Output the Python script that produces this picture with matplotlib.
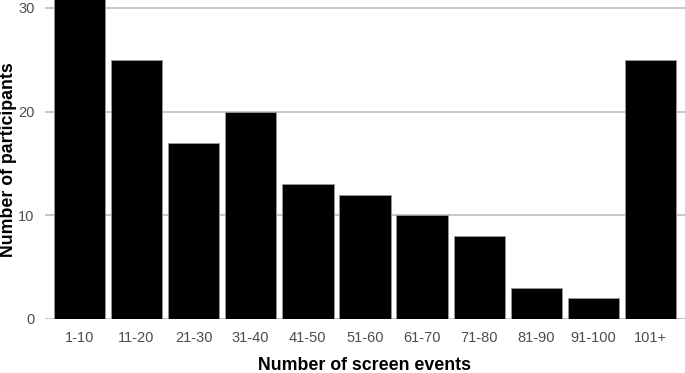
import matplotlib
matplotlib.use("Agg")
import matplotlib.pyplot as plt

categories = ["1-10", "11-20", "21-30", "31-40", "41-50", "51-60", "61-70", "71-80", "81-90", "91-100", "101+"]
participants = [31, 25, 17, 20, 13, 12, 10, 8, 3, 2, 25]
yticks = [0, 10, 20, 30]

plt.rcParams['font.family'] = ['Liberation Sans', 'DejaVu Sans']

fig = plt.figure(figsize=(6.85, 3.73), dpi=100)
ax = fig.add_axes([45/685, 54/373, 640/685, 319/373])

x = list(range(len(categories)))
ax.bar(x, participants, width=0.9, color="black", edgecolor="#999999", linewidth=0.6, zorder=3)
ax.set_xlim(-0.6, len(categories) - 1 + 0.6)
ax.set_ylim(0, 30.77)
ax.set_yticks(yticks)
ax.set_xticks(x)
ax.set_xticklabels(categories)
ax.grid(axis="y", color="#bdbdbd", linewidth=1.2, zorder=0)
for s in ax.spines.values():
    s.set_visible(False)
ax.tick_params(axis="both", length=0, labelsize=10.5, labelcolor="#4d4d4d")
ax.tick_params(axis="y", pad=7.5)
ax.tick_params(axis="x", pad=9)
fig.text(364/685, 1 - 366/373, "Number of screen events", fontsize=12.8, fontweight="bold",
         ha="center", va="center")
fig.text(9/685, 1 - 160/373, "Number of participants", fontsize=12.8, fontweight="bold",
         ha="center", va="center", rotation=90)

fig.savefig("out.png", dpi=100)
